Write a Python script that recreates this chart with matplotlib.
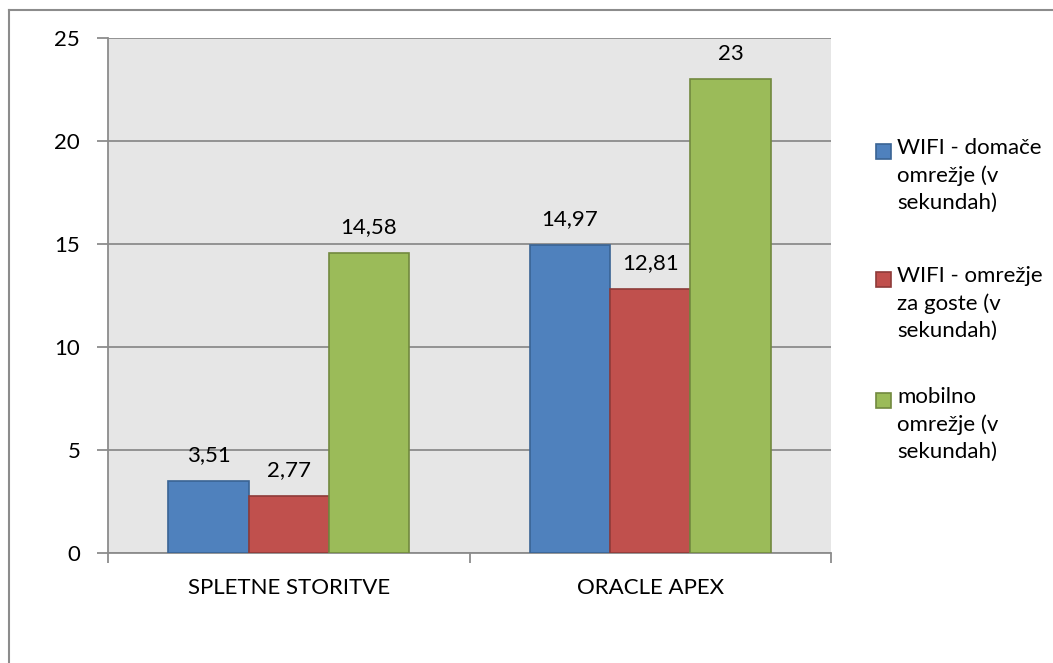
import numpy as np
import matplotlib.pyplot as plt
from matplotlib.patches import Rectangle
from matplotlib.lines import Line2D

plt.rcParams['font.family'] = ['Lato', 'DejaVu Sans']

# data
categories = ['SPLETNE STORITVE', 'ORACLE APEX']
series_names = ['WIFI - domače\nomrežje (v\nsekundah)',
                'WIFI - omrežje\nza goste (v\nsekundah)',
                'mobilno\nomrežje (v\nsekundah)']
wifi_home = [3.51, 14.97]
wifi_guest = [2.77, 12.81]
mobile = [14.58, 23]
series = [wifi_home, wifi_guest, mobile]

colors = ['#4F81BD', '#C0504D', '#9BBB59']
edges = ['#3A6494', '#8E3B39', '#72893F']
grey = '#8C8C8C'
FS = 16

W, H = 1053, 663
fig = plt.figure(figsize=(W / 100, H / 100), dpi=100)

# outer chart border (only left and top are inside the picture)
fig.add_artist(Line2D([9 / W, 9 / W], [0, 1 - 10 / H], transform=fig.transFigure,
                      color=grey, linewidth=1.5))
fig.add_artist(Line2D([9 / W, 1], [1 - 10 / H, 1 - 10 / H], transform=fig.transFigure,
                      color=grey, linewidth=1.5))

ax = fig.add_axes([108 / W, 1 - 553 / H, 723 / W, 515 / H])
ax.set_facecolor('#E6E6E6')

x = np.arange(len(categories))
w = 0.222
for i, vals in enumerate(series):
    pos = x + (i - 1) * w
    ax.bar(pos, vals, width=w, color=colors[i], edgecolor=edges[i],
           linewidth=1.2, zorder=3)
    for p, v in zip(pos, vals):
        txt = ('%g' % v).replace('.', ',')
        ax.annotate(txt, (p, v), xytext=(0, 18.5), textcoords='offset points',
                    ha='center', va='center', fontsize=FS, color='black', zorder=4)

ax.set_xlim(-0.5, 1.5)
ax.set_ylim(0, 25)
ax.set_yticks(range(0, 26, 5))
ax.yaxis.grid(True, color=grey, linewidth=1.3, zorder=1)
ax.set_axisbelow(True)

ax.set_xticks([-0.5, 0.5, 1.5])
ax.set_xticklabels([])
ax.set_xticks(x, minor=True)
ax.set_xticklabels(categories, minor=True, fontsize=FS)
ax.tick_params(axis='x', which='minor', length=0, pad=18)
ax.tick_params(axis='x', which='major', length=7, color=grey, width=1.3)
ax.tick_params(axis='y', length=8, color=grey, width=1.3, labelsize=FS, pad=12)

for s in ['top', 'right']:
    ax.spines[s].set_visible(False)
for s in ['left', 'bottom']:
    ax.spines[s].set_color(grey)
    ax.spines[s].set_linewidth(1.3)

# legend drawn by hand so the marker sits beside the first line of each entry
first_line_y = [151, 279, 400]
for i, name in enumerate(series_names):
    yc = first_line_y[i]
    fig.add_artist(Rectangle((876 / W, 1 - (yc + 8) / H), 15 / W, 15 / H,
                             transform=fig.transFigure, facecolor=colors[i],
                             edgecolor=edges[i], linewidth=1.2))
    fig.text(897 / W, 1 - (yc - 13) / H, name, ha='left', va='top',
             fontsize=FS, linespacing=1.45)

fig.savefig('out.png', dpi=100)
